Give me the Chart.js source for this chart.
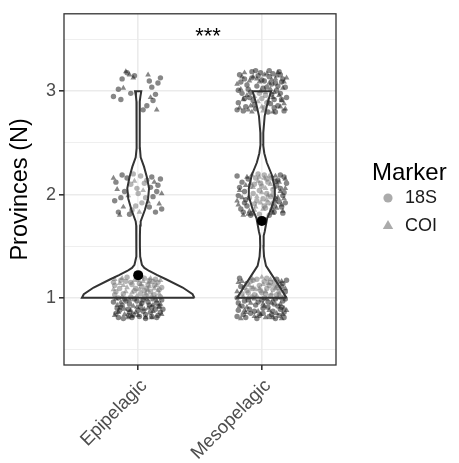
<!DOCTYPE html>
<html>
<head>
<meta charset="utf-8">
<script src="https://cdn.jsdelivr.net/npm/chart.js@4.4.1/dist/chart.umd.min.js"></script>
<style>
  html, body { margin: 0; padding: 0; background: #ffffff; }
  #wrap { width: 459px; height: 463px; }
</style>
</head>
<body>
<div id="wrap"><canvas id="violinChart" width="459" height="463"></canvas></div>
<script>
// Categories and axis ticks
const depthZones = ['Epipelagic', 'Mesopelagic'];
const provinceTicks = [1, 2, 3];
const provinceMinor = [0.5, 1.5, 2.5, 3.5];
const markerNames = ['18S', 'COI'];

// Jittered observations, [x offset, y offset] in hundredths around (zone, provinces)
const epi1_18S = [[-18,-15],[-12,4],[-5,-19],[3,11],[9,-7],[16,15],[19,-2],[-15,9],[-8,-11],[0,18],[6,-16],[13,3],[-20,-4],[-3,7],[11,-18],[17,8],[-10,16],[2,-9],[8,13],[-16,-19],[14,-11],[-6,1],[5,19],[-13,-7],[18,-14],[-1,-3],[10,6],[-19,12],[4,-13],[-9,20],[15,-5],[-4,-16],[7,2],[-14,17],[12,-1],[-7,-6],[1,14],[19,10],[-17,-10],[6,-20],[-11,-1],[16,-17],[-2,9],[9,17],[-19,3],[3,-5],[13,12],[-8,-17],[-15,-12],[0,-12],[11,-9],[-5,13],[18,1],[-12,-20],[7,9],[-3,-1],[14,18],[-18,6],[2,4],[10,-14],[-10,-3],[17,-8],[-6,15],[4,-2],[-14,-9],[8,-4],[-1,20],[15,-19],[-20,15],[12,16],[-7,-14],[5,7],[-16,0],[20,-11],[1,-18]];
const epi1_COI = [[-17,-7],[-9,10],[-2,-14],[6,4],[12,-13],[18,17],[-13,19],[2,-6],[9,11],[15,-3],[-19,-17],[-5,5],[4,16],[11,-19],[-11,-11],[16,7],[-1,2],[8,-10],[-15,14],[19,-16],[-7,-2],[3,20],[13,9],[-18,-1],[0,-17],[7,-1],[-12,12],[17,-9],[-4,-8],[10,19],[-20,8],[5,-11],[14,0],[-8,-19],[-3,17],[11,2],[-16,-14],[1,8],[18,-6],[-10,6],[6,-19],[-14,-4],[9,15],[-6,-12],[15,12],[-1,-9],[4,0],[-19,18],[12,-7],[-11,-16],[2,13],[17,4],[-5,-18],[8,7],[-13,1]];
const epi2_18S = [[-18,12],[-14,-3],[-9,16],[-5,-15],[-1,6],[3,-8],[7,14],[12,-2],[16,9],[19,-14],[-16,-17],[-11,3],[-6,10],[-2,-11],[2,18],[6,-3],[10,7],[14,-17],[18,15],[-19,-6],[-13,19],[-7,-19],[0,1],[5,11],[9,-12],[15,3],[-4,20],[11,17]];
const epi2_COI = [[-17,5],[-12,-12],[-8,-1],[-3,13],[1,-17],[4,4],[8,-7],[13,12],[17,-9],[-15,-20],[-20,16],[19,1]];
const epi3_18S = [[-20,-5],[-16,2],[-13,12],[-9,18],[-6,-2],[-3,15],[-14,-8],[4,-18],[9,10],[11,4],[14,-3],[16,8],[12,-9],[18,13],[7,-14]];
const epi3_COI = [[-10,19],[-7,16],[-4,13],[10,-6],[15,-18],[-12,3],[8,16]];
const meso1_18S = [[-19,-12],[-11,5],[-4,-20],[4,9],[10,-6],[17,14],[-14,-3],[-7,17],[1,-10],[7,2],[14,-17],[19,6],[-17,11],[-9,-15],[-2,12],[5,-4],[12,18],[16,-9],[-20,0],[-13,-19],[-6,3],[2,16],[9,-13],[15,1],[-16,-8],[-8,9],[0,-2],[6,-18],[13,10],[18,-14],[-12,14],[-5,-7],[3,4],[11,-1],[20,17],[-18,19],[-10,-11],[-1,7],[8,-16],[14,6],[-15,-16],[-3,-4],[4,19],[10,13],[17,-3],[-19,-5],[-8,1],[1,-15],[7,15],[15,-11],[-12,7],[-4,18],[5,-9],[12,3],[18,-19],[-16,4],[-6,-13],[2,0],[9,8],[-11,-2],[16,11],[-2,-17],[6,12],[13,-8],[-20,-18],[-9,16],[0,5],[11,-20],[19,-1],[-14,10]];
const meso1_COI = [[-18,-8],[-10,12],[-3,-13],[3,6],[9,-19],[16,16],[-15,1],[-6,-18],[1,13],[8,-5],[14,4],[20,-12],[-13,-14],[-5,8],[2,-8],[10,17],[17,-16],[-19,15],[-9,-5],[0,20],[6,-12],[13,0],[-17,-20],[-7,10],[4,-1],[11,9],[18,2],[-12,-9],[-1,-16],[7,18],[15,-6],[-20,6],[-4,2],[5,14],[12,-15],[19,9],[-14,-12],[-8,19],[3,-19],[9,-2],[16,-20],[-11,0],[-2,9],[8,4],[14,15],[-16,16],[-6,-1],[1,-6],[12,11],[18,-10]];
const meso2_18S = [[-17,-14],[-9,8],[-2,-19],[5,12],[11,-4],[18,17],[-14,3],[-6,-9],[2,19],[8,-15],[15,6],[-19,-1],[-11,15],[-4,-6],[4,1],[10,-11],[17,-18],[-16,12],[-8,-18],[0,8],[7,-2],[13,14],[19,-8],[-13,-5],[-5,16],[3,-13],[9,5],[16,-12],[-20,18],[-10,-3],[-1,11],[6,-20],[12,9],[18,2],[-15,-17],[-7,1],[1,-4],[8,16],[14,-7],[-18,7],[-12,-11],[-3,20],[5,-8],[11,13],[17,-1],[-9,-20],[-2,4],[4,15],[10,-17],[15,19],[-14,-8],[-6,10],[2,-11],[9,0],[20,11]];
const meso2_COI = [[-18,4],[-10,-16],[-3,13],[4,-5],[11,18],[16,-10],[-15,-20],[-7,7],[1,-14],[7,10],[13,-3],[19,15],[-12,17],[-4,-2],[3,6],[9,-18],[15,3],[-19,-10],[-9,11],[-1,-8],[6,18],[12,-13],[18,-4],[-16,-3],[-6,-15],[2,16],[8,-9],[14,12],[-13,9],[-5,-12],[0,2],[10,7],[17,-16],[-20,-6],[-8,19],[5,-1],[11,-7],[19,6],[-11,-19],[-2,17]];
const meso3_18S = [[-19,-11],[-12,6],[-5,-17],[2,10],[8,-3],[15,16],[-16,-2],[-8,19],[0,-7],[6,14],[13,-14],[19,4],[-14,12],[-6,-13],[1,3],[9,17],[16,-8],[-20,-18],[-10,-6],[-3,15],[4,-11],[11,8],[18,-19],[-17,9],[-9,-1],[-1,18],[5,-20],[12,1],[17,12],[-13,-15],[-4,5],[3,-4],[10,-16],[14,19],[-18,16],[-7,-9],[0,11],[7,-12],[13,5],[20,-6],[-15,-19],[-11,2],[-2,-2],[6,20],[10,-8],[16,9],[-19,1],[-8,13],[2,-16],[8,7],[15,-2],[-14,-7],[-5,20],[4,4],[11,-20]];
const meso3_COI = [[-17,2],[-9,-14],[-2,9],[5,-9],[12,15],[18,-12],[-14,18],[-6,-5],[1,-19],[8,11],[14,-4],[20,13],[-18,-16],[-10,10],[-3,-10],[4,17],[10,-1],[17,3],[-15,-8],[-7,14],[0,-15],[7,2],[13,18],[19,-17],[-12,-4],[-4,12],[3,-1],[9,-20],[16,-9],[-20,7],[-11,-18],[-1,0],[6,8],[11,12],[15,-15],[-16,14],[-8,-20],[2,16],[9,-6],[18,9]];

// Mean number of provinces per depth zone
const meanProvinces = [1.22, 1.745];

// Violin outlines: province value and half-width (in category units)
const epiViolinY    = [1.0, 1.035, 1.1, 1.18, 1.22, 1.26, 1.29, 1.32, 1.4, 1.5, 1.6, 1.7, 1.74, 1.85, 1.96, 2.06, 2.17, 2.27, 2.36, 2.45, 2.6, 2.8, 2.9, 2.95, 3.0];
const epiViolinHalf = [0.455, 0.44, 0.36, 0.225, 0.155, 0.089, 0.05, 0.03, 0.016, 0.014, 0.014, 0.016, 0.02, 0.054, 0.08, 0.088, 0.07, 0.047, 0.02, 0.014, 0.012, 0.012, 0.014, 0.018, 0.025];
const mesoViolinY    = [1.0, 1.115, 1.21, 1.31, 1.4, 1.5, 1.6, 1.64, 1.77, 1.86, 1.98, 2.06, 2.19, 2.31, 2.4, 2.48, 2.6, 2.76, 2.89, 3.0];
const mesoViolinHalf = [0.2, 0.14, 0.088, 0.034, 0.018, 0.013, 0.015, 0.023, 0.043, 0.075, 0.105, 0.105, 0.081, 0.04, 0.02, 0.011, 0.012, 0.023, 0.047, 0.075];

// Significance label and where it sits (data units)
const signifLabel = '***';
const signifPos = [1.565, 3.525];

const FONT = '"Liberation Sans", Arial, Helvetica, sans-serif';
Chart.defaults.font.family = FONT;

function jitterPoints(zoneIdx, province, pairs) {
    return pairs.map(p => ({ x: zoneIdx + 1 + p[0] / 100, y: province + p[1] / 100 }));
}

const points18S = [].concat(
    jitterPoints(0, 1, epi1_18S), jitterPoints(0, 2, epi2_18S), jitterPoints(0, 3, epi3_18S),
    jitterPoints(1, 1, meso1_18S), jitterPoints(1, 2, meso2_18S), jitterPoints(1, 3, meso3_18S)
);
const pointsCOI = [].concat(
    jitterPoints(0, 1, epi1_COI), jitterPoints(0, 2, epi2_COI), jitterPoints(0, 3, epi3_COI),
    jitterPoints(1, 1, meso1_COI), jitterPoints(1, 2, meso2_COI), jitterPoints(1, 3, meso3_COI)
);

// Closed outline: up the right side, down the left side
function violinOutline(center, ys, halves) {
    const right = ys.map((y, i) => ({ x: center + halves[i], y: y }));
    const left = ys.map((y, i) => ({ x: center - halves[i], y: y })).reverse();
    return right.concat(left, [right[0]]);
}

const pointColor = 'rgba(25, 25, 25, 0.52)';

// Full box around the panel (theme_bw style)
const panelBorder = {
    id: 'panelBorder',
    afterDatasetsDraw(chart) {
        const { ctx, chartArea: a } = chart;
        ctx.save();
        ctx.strokeStyle = '#333333';
        ctx.lineWidth = 1.3;
        ctx.strokeRect(a.left, a.top, a.right - a.left, a.bottom - a.top);
        ctx.restore();
    }
};

// *** annotation
const signifText = {
    id: 'signifText',
    afterDatasetsDraw(chart) {
        const { ctx, scales } = chart;
        ctx.save();
        ctx.fillStyle = '#000000';
        ctx.font = '22px ' + FONT;
        ctx.textAlign = 'center';
        ctx.textBaseline = 'middle';
        ctx.fillText(signifLabel, scales.x.getPixelForValue(signifPos[0]), scales.y.getPixelForValue(signifPos[1]));
        ctx.restore();
    }
};

// Legend on the right, ggplot style
const markerLegend = {
    id: 'markerLegend',
    afterDraw(chart) {
        const ctx = chart.ctx;
        ctx.save();
        ctx.fillStyle = '#000000';
        ctx.font = '24px ' + FONT;
        ctx.textAlign = 'left';
        ctx.textBaseline = 'middle';
        ctx.fillText('Marker', 372, 173);
        const styles = ['circle', 'triangle'];
        markerNames.forEach((name, i) => {
            const y = 198 + i * 28;
            ctx.fillStyle = 'rgba(0, 0, 0, 0.33)';
            Chart.helpers.drawPoint(ctx, { pointStyle: styles[i], radius: i === 0 ? 4.6 : 6, borderWidth: 0 }, 388, y);
            ctx.fillStyle = '#1a1a1a';
            ctx.font = '18px ' + FONT;
            ctx.fillText(name, 405, y);
        });
        ctx.restore();
    }
};

const ctx = document.getElementById('violinChart').getContext('2d');

new Chart(ctx, {
    type: 'scatter',
    data: {
        datasets: [
            {
                label: markerNames[0],
                data: points18S,
                pointStyle: 'circle',
                pointRadius: 2.7,
                backgroundColor: pointColor,
                borderWidth: 0,
                order: 4
            },
            {
                label: markerNames[1],
                data: pointsCOI,
                pointStyle: 'triangle',
                pointRadius: 3.3,
                backgroundColor: pointColor,
                borderWidth: 0,
                order: 3
            },
            {
                type: 'line',
                label: depthZones[0] + ' violin',
                data: violinOutline(1, epiViolinY, epiViolinHalf),
                borderColor: '#333333',
                borderWidth: 2,
                backgroundColor: 'rgba(255, 255, 255, 0.38)',
                fill: 'shape',
                pointRadius: 0,
                tension: 0,
                order: 2
            },
            {
                type: 'line',
                label: depthZones[1] + ' violin',
                data: violinOutline(2, mesoViolinY, mesoViolinHalf),
                borderColor: '#333333',
                borderWidth: 2,
                backgroundColor: 'rgba(255, 255, 255, 0.38)',
                fill: 'shape',
                pointRadius: 0,
                tension: 0,
                order: 2
            },
            {
                label: 'Mean',
                data: meanProvinces.map((m, i) => ({ x: i + 1, y: m })),
                pointStyle: 'circle',
                pointRadius: 5,
                backgroundColor: '#000000',
                borderWidth: 0,
                order: 1
            }
        ]
    },
    options: {
        responsive: false,
        animation: false,
        devicePixelRatio: 1,
        events: [],
        layout: {
            padding: { top: 10, right: 123, left: 0, bottom: 0 }
        },
        plugins: {
            legend: { display: false },
            tooltip: { enabled: false }
        },
        scales: {
            x: {
                type: 'linear',
                min: 0.4,
                max: 2.6,
                afterBuildTicks: (scale) => {
                    scale.ticks = depthZones.map((z, i) => ({ value: i + 1 }));
                },
                afterFit: (scale) => { scale.height = 98; },
                ticks: {
                    autoSkip: false,
                    minRotation: 45,
                    maxRotation: 45,
                    padding: 5,
                    labelOffset: 6,
                    color: '#4d4d4d',
                    font: { size: 18.5 },
                    callback: (value) => depthZones[value - 1]
                },
                grid: {
                    color: '#ebebeb',
                    lineWidth: 1.6,
                    tickColor: '#333333',
                    tickLength: 5
                },
                border: { display: false }
            },
            y: {
                type: 'linear',
                min: 0.35,
                max: 3.75,
                afterBuildTicks: (scale) => {
                    scale.ticks = provinceMinor.concat(provinceTicks)
                        .sort((a, b) => a - b)
                        .map(v => ({ value: v }));
                },
                afterFit: (scale) => { scale.width = 64; },
                ticks: {
                    autoSkip: false,
                    padding: 3,
                    color: '#4d4d4d',
                    font: { size: 18 },
                    callback: (value) => provinceTicks.includes(value) ? String(value) : ''
                },
                grid: {
                    color: '#ebebeb',
                    lineWidth: (c) => provinceTicks.includes(c.tick && c.tick.value) ? 1.6 : 0.8,
                    tickColor: (c) => provinceTicks.includes(c.tick && c.tick.value) ? '#333333' : 'rgba(0,0,0,0)',
                    tickLength: 5
                },
                border: { display: false },
                title: {
                    display: true,
                    text: 'Provinces (N)',
                    color: '#000000',
                    font: { size: 23.5 },
                    padding: { top: 6, bottom: 0 }
                }
            }
        }
    },
    plugins: [panelBorder, signifText, markerLegend]
});
</script>
</body>
</html>
